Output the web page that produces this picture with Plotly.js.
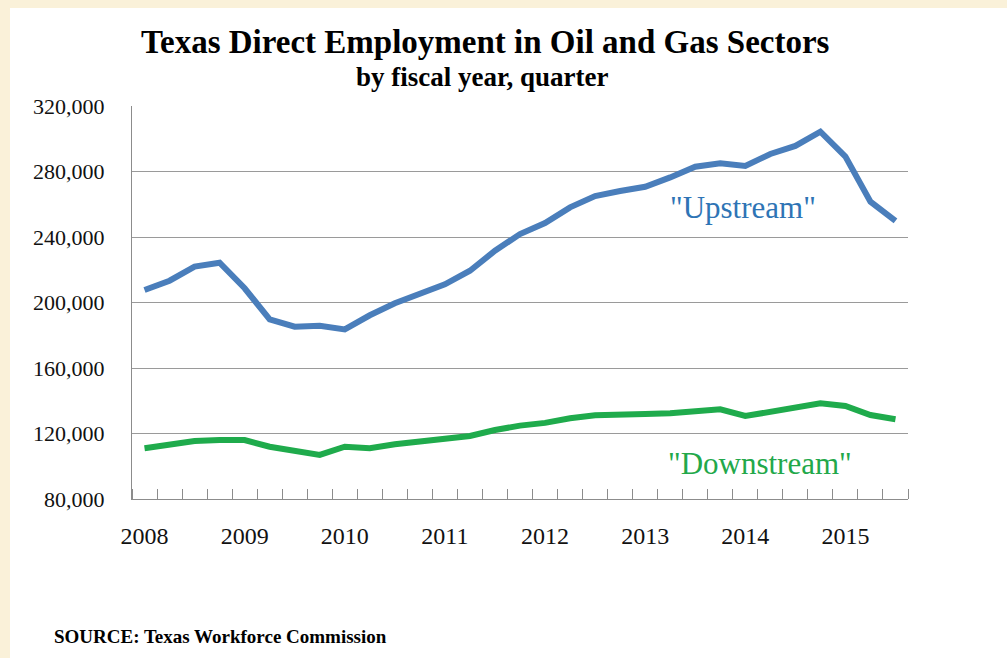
<!DOCTYPE html>
<html>
<head>
<meta charset="utf-8">
<script src="https://cdn.plot.ly/plotly-3.0.1.min.js"></script>
<style>
  html, body { margin: 0; padding: 0; background: #faf1d9; width: 1007px; height: 658px; overflow: hidden; }
  #chart { position: absolute; left: 10px; top: 8px; width: 997px; height: 650px; }
</style>
</head>
<body>
<div id="chart"></div>
<script>
// Quarterly categories (fiscal year, quarter)
const quarters = [
  '2008 Q1','2008 Q2','2008 Q3','2008 Q4',
  '2009 Q1','2009 Q2','2009 Q3','2009 Q4',
  '2010 Q1','2010 Q2','2010 Q3','2010 Q4',
  '2011 Q1','2011 Q2','2011 Q3','2011 Q4',
  '2012 Q1','2012 Q2','2012 Q3','2012 Q4',
  '2013 Q1','2013 Q2','2013 Q3','2013 Q4',
  '2014 Q1','2014 Q2','2014 Q3','2014 Q4',
  '2015 Q1','2015 Q2','2015 Q3'
];
const upstream = [
  207600, 213300, 221900, 224300,
  208700, 189700, 185200, 185800,
  183600, 192200, 199500, 205600,
  211100, 219400, 231600, 241800,
  248500, 258100, 265000, 268100,
  270700, 276400, 282900, 285000,
  283400, 290700, 295600, 304300,
  289100, 261600, 249800
];
const downstream = [
  111000, 113400, 115400, 116000,
  116000, 111900, 109300, 106900,
  111900, 111000, 113400, 115000,
  116400, 118500, 122100, 124800,
  126500, 129300, 131100, 131900,
  131900, 132300, 133900, 134800,
  130700, 133300, 136000, 138400,
  136800, 131300, 128700
];
const yearLabels = ['2008','2009','2010','2011','2012','2013','2014','2015'];
const yTicks = [80000, 120000, 160000, 200000, 240000, 280000, 320000];

// positions of categories along the axis
const xPos = quarters.map((q, i) => i);
const yearPos = yearLabels.map(y => quarters.indexOf(y + ' Q1'));

const serif = 'Liberation Serif';

const traces = [
  {
    x: xPos, y: upstream, text: quarters, name: 'Upstream',
    type: 'scatter', mode: 'lines',
    line: { color: '#4a7ebb', width: 6 },
    hoverinfo: 'text+y'
  },
  {
    x: xPos, y: downstream, text: quarters, name: 'Downstream',
    type: 'scatter', mode: 'lines',
    line: { color: '#1fab4c', width: 6 },
    hoverinfo: 'text+y'
  }
];

const layout = {
  width: 997, height: 650,
  paper_bgcolor: '#ffffff',
  plot_bgcolor: '#ffffff',
  margin: { l: 122, r: 99, t: 98, b: 159 },
  showlegend: false,
  font: { family: serif, color: '#111111' },
  xaxis: {
    range: [-0.5, quarters.length - 0.5],
    tickmode: 'array',
    tickvals: yearPos,
    ticktext: yearLabels,
    ticks: '',
    showgrid: false,
    zeroline: false,
    showline: true,
    linecolor: '#8c8c8c',
    linewidth: 1,
    ticklabelstandoff: 15,
    tickfont: { family: serif, size: 24, color: '#111111' },
    minor: {
      tickmode: 'linear',
      tick0: 0.5,
      dtick: 1,
      ticks: 'inside',
      ticklen: 10,
      tickwidth: 1,
      tickcolor: '#8c8c8c',
      showgrid: false
    },
    fixedrange: true
  },
  yaxis: {
    range: [80000, 320000],
    tickmode: 'array',
    tickvals: yTicks,
    tickformat: ',d',
    ticks: '',
    showgrid: true,
    gridcolor: '#9a9a9a',
    gridwidth: 1,
    zeroline: false,
    showline: true,
    linecolor: '#8c8c8c',
    linewidth: 1,
    ticklabelstandoff: 22,
    tickfont: { family: serif, size: 22, color: '#111111' },
    fixedrange: true
  },
  annotations: [
    {
      text: '<b>Texas Direct Employment in Oil and Gas Sectors</b>',
      xref: 'paper', yref: 'paper', x: 0.455, y: 1.163,
      xanchor: 'center', yanchor: 'middle', showarrow: false,
      font: { family: serif, size: 33, color: '#000000' }
    },
    {
      text: '<b>by fiscal year, quarter</b>',
      xref: 'paper', yref: 'paper', x: 0.451, y: 1.074,
      xanchor: 'center', yanchor: 'middle', showarrow: false,
      font: { family: serif, size: 27, color: '#000000' }
    },
    {
      text: '"Upstream"',
      xref: 'paper', yref: 'paper', x: 0.787, y: 0.743,
      xanchor: 'center', yanchor: 'middle', showarrow: false,
      font: { family: serif, size: 31, color: '#2e74b5' }
    },
    {
      text: '"Downstream"',
      xref: 'paper', yref: 'paper', x: 0.809, y: 0.0916,
      xanchor: 'center', yanchor: 'middle', showarrow: false,
      font: { family: serif, size: 31, color: '#22a84a' }
    },
    {
      text: '<b>SOURCE: Texas Workforce Commission</b>',
      xref: 'paper', yref: 'paper', x: -0.103, y: -0.351,
      xanchor: 'left', yanchor: 'middle', showarrow: false,
      font: { family: serif, size: 19, color: '#000000' }
    }
  ]
};

Plotly.newPlot('chart', traces, layout, { displayModeBar: false, staticPlot: true });
</script>
</body>
</html>
